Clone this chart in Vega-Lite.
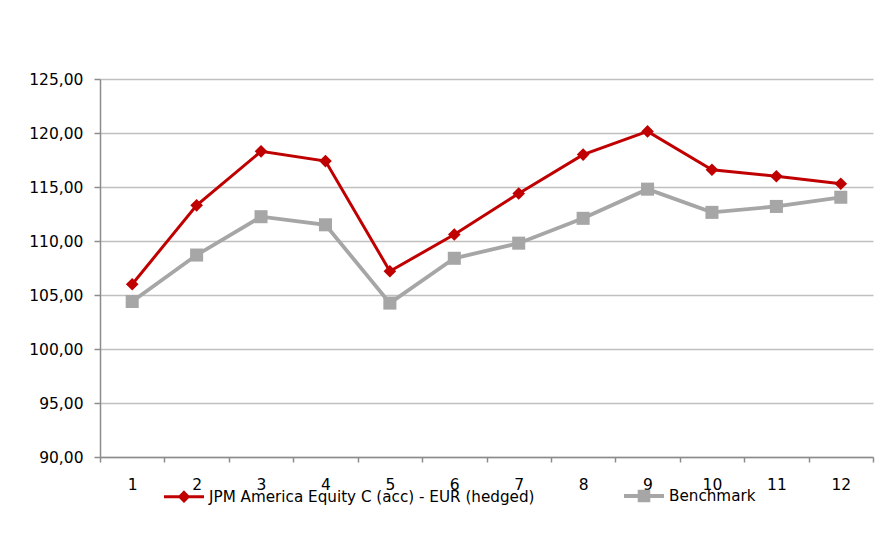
{
  "$schema": "https://vega.github.io/schema/vega-lite/v6.json",
  "width": 773,
  "height": 378,
  "autosize": "none",
  "padding": {"left": 100, "top": 79, "right": 14, "bottom": 94},
  "background": "white",
  "data": {
    "values": [
      {"m": 1, "s": "JPM America Equity C (acc) - EUR (hedged)", "v": 106.0},
      {"m": 2, "s": "JPM America Equity C (acc) - EUR (hedged)", "v": 113.3},
      {"m": 3, "s": "JPM America Equity C (acc) - EUR (hedged)", "v": 118.3},
      {"m": 4, "s": "JPM America Equity C (acc) - EUR (hedged)", "v": 117.4},
      {"m": 5, "s": "JPM America Equity C (acc) - EUR (hedged)", "v": 107.2},
      {"m": 6, "s": "JPM America Equity C (acc) - EUR (hedged)", "v": 110.6},
      {"m": 7, "s": "JPM America Equity C (acc) - EUR (hedged)", "v": 114.4},
      {"m": 8, "s": "JPM America Equity C (acc) - EUR (hedged)", "v": 118.0},
      {"m": 9, "s": "JPM America Equity C (acc) - EUR (hedged)", "v": 120.15},
      {"m": 10, "s": "JPM America Equity C (acc) - EUR (hedged)", "v": 116.6},
      {"m": 11, "s": "JPM America Equity C (acc) - EUR (hedged)", "v": 116.0},
      {"m": 12, "s": "JPM America Equity C (acc) - EUR (hedged)", "v": 115.3},
      {"m": 1, "s": "Benchmark", "v": 104.4},
      {"m": 2, "s": "Benchmark", "v": 108.7},
      {"m": 3, "s": "Benchmark", "v": 112.25},
      {"m": 4, "s": "Benchmark", "v": 111.5},
      {"m": 5, "s": "Benchmark", "v": 104.25},
      {"m": 6, "s": "Benchmark", "v": 108.4},
      {"m": 7, "s": "Benchmark", "v": 109.8},
      {"m": 8, "s": "Benchmark", "v": 112.1},
      {"m": 9, "s": "Benchmark", "v": 114.8},
      {"m": 10, "s": "Benchmark", "v": 112.65},
      {"m": 11, "s": "Benchmark", "v": 113.2},
      {"m": 12, "s": "Benchmark", "v": 114.05}
    ]
  },
  "encoding": {
    "x": {
      "field": "m",
      "type": "ordinal",
      "scale": {"domain": [1,2,3,4,5,6,7,8,9,10,11,12], "paddingInner": 0, "paddingOuter": 0},
      "axis": {
        "title": null,
        "labelAngle": 0,
        "tickBand": "extent",
        "tickSize": 5,
        "labelPadding": 15,
        "grid": false,
        "domainColor": "#8c8c8c",
        "tickColor": "#8c8c8c",
        "domainWidth": 1.5,
        "tickWidth": 1.5,
        "labelFont": "DejaVu Sans",
        "labelFontSize": 15.5,
        "labelColor": "#000000"
      }
    },
    "y": {
      "field": "v",
      "type": "quantitative",
      "scale": {"domain": [90, 125], "nice": false, "zero": false},
      "axis": {
        "title": null,
        "values": [90, 95, 100, 105, 110, 115, 120, 125],
        "labelExpr": "replace(format(datum.value, '.2f'), '.', ',')",
        "tickSize": 6,
        "labelPadding": 11,
        "domainColor": "#8c8c8c",
        "tickColor": "#8c8c8c",
        "domainWidth": 1.5,
        "tickWidth": 1.5,
        "gridColor": "#c0c0c0",
        "gridWidth": 1.5,
        "labelFont": "DejaVu Sans",
        "labelFontSize": 15.5,
        "labelColor": "#000000"
      }
    },
    "color": {
      "field": "s",
      "type": "nominal",
      "scale": {
        "domain": ["JPM America Equity C (acc) - EUR (hedged)", "Benchmark"],
        "range": ["#c00000", "#a6a6a6"]
      },
      "legend": {
        "title": null,
        "orient": "none",
        "legendX": 62,
        "legendY": 395,
        "direction": "horizontal",
        "columns": 2,
        "columnPadding": 81,
        "padding": 0,
        "symbolSize": 1600,
        "symbolStrokeWidth": 3,
        "labelOffset": 3,
        "labelLimit": 600,
        "labelFont": "DejaVu Sans",
        "labelFontSize": 15.2,
        "labelColor": "#000000",
        "encode": {
          "symbols": {
            "update": {
              "shape": {"signal": "datum.value === 'Benchmark' ? 'M-1,0H1M-0.22,-0.22H0.22V0.22H-0.22Z' : 'M-1,0H1M0,-0.21L0.21,0L0,0.21L-0.21,0Z'"},
              "fill": {"scale": "color", "field": "value"},
              "stroke": {"scale": "color", "field": "value"},
              "strokeWidth": {"value": 3},
              "opacity": {"value": 1}
            }
          }
        }
      }
    }
  },
  "layer": [
    {
      "mark": {"type": "line"},
      "encoding": {
        "strokeWidth": {
          "field": "s",
          "type": "nominal",
          "scale": {"domain": ["JPM America Equity C (acc) - EUR (hedged)", "Benchmark"], "range": [3, 3.8]},
          "legend": null
        }
      }
    },
    {
      "transform": [{"filter": "datum.s !== 'Benchmark'"}],
      "mark": {"type": "point", "filled": true, "opacity": 1, "shape": "diamond", "size": 160}
    },
    {
      "transform": [{"filter": "datum.s === 'Benchmark'"}],
      "mark": {"type": "point", "filled": true, "opacity": 1, "shape": "square", "size": 170}
    }
  ],
  "config": {
    "view": {"stroke": null}
  }
}
